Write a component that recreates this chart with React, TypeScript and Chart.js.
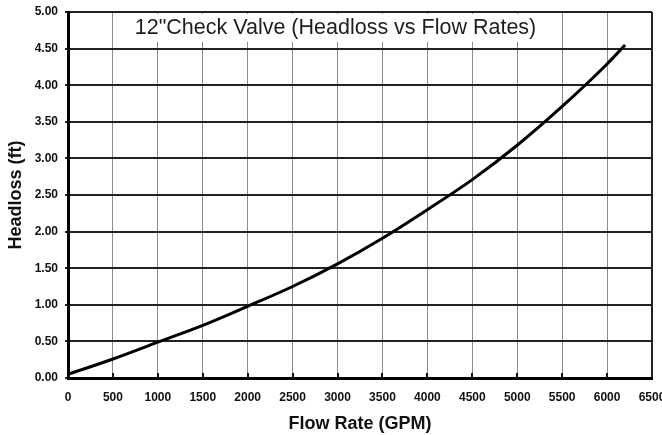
import React, { useEffect, useRef } from "react";
import { Chart, registerables } from "chart.js";

Chart.register(...registerables);

const flowRates = [0, 500, 1000, 1500, 2000, 2500, 3000, 3500, 4000, 4500, 5000, 5500, 6000, 6200];
const headloss = [0.05, 0.26, 0.49, 0.72, 0.98, 1.25, 1.56, 1.91, 2.3, 2.71, 3.18, 3.71, 4.29, 4.55];
const xTickValues = [0, 500, 1000, 1500, 2000, 2500, 3000, 3500, 4000, 4500, 5000, 5500, 6000, 6500];
const yTickValues = [0, 0.5, 1, 1.5, 2, 2.5, 3, 3.5, 4, 4.5, 5];
const chartTitle = '12"Check Valve (Headloss vs Flow Rates)';
const xAxisTitle = "Flow Rate (GPM)";
const yAxisTitle = "Headloss (ft)";

const FONT = '"Liberation Sans", Arial, Helvetica, sans-serif';

const titlePlugin = {
  id: "innerTitle",
  beforeDatasetsDraw(chart: any) {
    const { ctx, chartArea } = chart;
    ctx.save();
    ctx.font = `21.5px ${FONT}`;
    const w = ctx.measureText(chartTitle).width;
    const cx = chartArea.left + 267.5;
    ctx.fillStyle = "#ffffff";
    ctx.fillRect(cx - w / 2 - 6, chartArea.top + 2, w + 12, 28);
    ctx.fillStyle = "#1e1e1e";
    ctx.textAlign = "center";
    ctx.textBaseline = "alphabetic";
    ctx.fillText(chartTitle, cx, chartArea.top + 21.5);
    ctx.restore();
  },
  afterDatasetsDraw(chart: any) {
    const { ctx, chartArea, scales } = chart;
    ctx.save();
    ctx.strokeStyle = "#111";
    ctx.lineWidth = 2;
    for (const v of xTickValues) {
      if (v === 0 || v === 6500) continue;
      const px = Math.round(scales.x.getPixelForValue(v));
      ctx.beginPath();
      ctx.moveTo(px, chartArea.bottom);
      ctx.lineTo(px, chartArea.bottom - 5);
      ctx.stroke();
    }
    ctx.restore();
  },
};

export default function App() {
  const ref = useRef<HTMLCanvasElement | null>(null);

  useEffect(() => {
    if (!ref.current) return;
    const chart = new Chart(ref.current, {
      type: "line",
      data: {
        datasets: [
          {
            data: flowRates.map((x, i) => ({ x, y: headloss[i] })),
            borderColor: "#000",
            borderWidth: 3,
            pointRadius: 0,
            cubicInterpolationMode: "monotone",
            fill: false,
          },
        ],
      },
      options: {
        animation: false,
        responsive: false,
        maintainAspectRatio: false,
        layout: { padding: { top: 12, right: 10, left: 0, bottom: 0 } },
        plugins: { legend: { display: false }, tooltip: { enabled: false }, title: { display: false } },
        scales: {
          x: {
            type: "linear",
            min: 0,
            max: 6500,
            afterBuildTicks: (s: any) => {
              s.ticks = xTickValues.map((v) => ({ value: v }));
            },
            afterFit: (s: any) => {
              s.height = 57;
              s.paddingLeft = 0;
              s.paddingRight = 0;
            },
            ticks: {
              autoSkip: false,
              maxRotation: 0,
              padding: 12,
              color: "#111",
              font: { family: FONT, size: 12, weight: "bold" },
              callback: (v: any) => String(v),
            },
            grid: {
              color: (c: any) => (c.tick && c.tick.value === 6500 ? "#222" : "#8c8c8c"),
              lineWidth: (c: any) => (c.tick && c.tick.value === 6500 ? 2 : 1),
              drawTicks: false,
            },
            border: { display: true, color: "#000", width: 3 },
            title: {
              display: true,
              text: xAxisTitle,
              color: "#111",
              font: { family: FONT, size: 18, weight: "bold" },
              padding: { top: 0, bottom: 0 },
            },
          },
          y: {
            type: "linear",
            min: 0,
            max: 5,
            afterBuildTicks: (s: any) => {
              s.ticks = yTickValues.map((v) => ({ value: v }));
            },
            afterFit: (s: any) => {
              s.width = 68;
              s.paddingTop = 0;
              s.paddingBottom = 0;
            },
            ticks: {
              padding: 7,
              color: "#111",
              font: { family: FONT, size: 12, weight: "bold" },
              callback: (v: any) => Number(v).toFixed(2),
            },
            grid: {
              color: "#222",
              lineWidth: 2,
              drawTicks: true,
              tickLength: 3,
            },
            border: { display: true, color: "#000", width: 3 },
            title: {
              display: true,
              text: yAxisTitle,
              color: "#111",
              font: { family: FONT, size: 18, weight: "bold" },
              padding: { top: 5, bottom: 0 },
            },
          },
        },
      },
      plugins: [titlePlugin],
    } as any);
    return () => chart.destroy();
  }, []);

  return (
    <div style={{ position: "fixed", left: 0, top: 0, width: 662, height: 435, background: "#fff" }}>
      <canvas ref={ref} width={662} height={435} style={{ display: "block", width: 662, height: 435 }} />
    </div>
  );
}
